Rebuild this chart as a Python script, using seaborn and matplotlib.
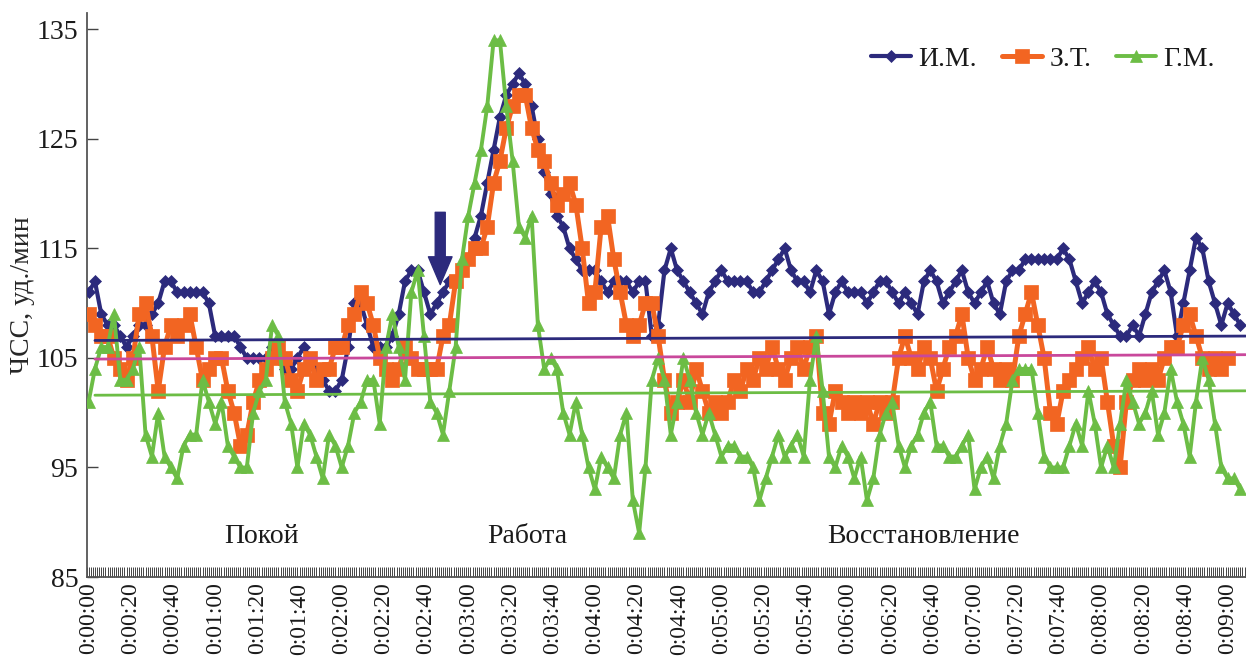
import matplotlib
matplotlib.use("Agg")
import matplotlib.pyplot as plt
from matplotlib.ticker import MultipleLocator, FuncFormatter
import numpy as np
import pandas as pd
import seaborn as sns

# Heart rate, sampled every 3 s from 0:00:00 to 0:09:06
seconds = list(range(0, 547, 3))

im = [111, 112, 109, 108, 108, 107, 106, 107, 108, 108,
      109, 110, 112, 112, 111, 111, 111, 111, 111, 110,
      107, 107, 107, 107, 106, 105, 105, 105, 105, 106,
      105, 104, 104, 105, 106, 105, 104, 103, 102, 102,
      103, 106, 110, 110, 108, 106, 106, 106, 107, 109,
      112, 113, 113, 111, 109, 110, 111, 112, 112, 113,
      114, 116, 118, 121, 124, 127, 129, 130, 131, 130,
      128, 125, 122, 120, 118, 117, 115, 114, 113, 113,
      113, 112, 111, 112, 112, 112, 111, 112, 112, 107,
      108, 113, 115, 113, 112, 111, 110, 109, 111, 112,
      113, 112, 112, 112, 112, 111, 111, 112, 113, 114,
      115, 113, 112, 112, 111, 113, 112, 109, 111, 112,
      111, 111, 111, 110, 111, 112, 112, 111, 110, 111,
      110, 109, 112, 113, 112, 110, 111, 112, 113, 111,
      110, 111, 112, 110, 109, 112, 113, 113, 114, 114,
      114, 114, 114, 114, 115, 114, 112, 110, 111, 112,
      111, 109, 108, 107, 107, 108, 107, 109, 111, 112,
      113, 111, 107, 110, 113, 116, 115, 112, 110, 108,
      110, 109, 108]

zt = [109, 108, 107, 107, 105, 104, 103, 105, 109, 110,
      107, 102, 106, 108, 107, 108, 109, 106, 103, 104,
      105, 105, 102, 100, 97, 98, 101, 103, 104, 105,
      106, 105, 103, 102, 104, 105, 103, 104, 104, 106,
      106, 108, 109, 111, 110, 108, 105, 104, 103, 104,
      106, 105, 104, 104, 104, 104, 107, 108, 112, 113,
      114, 115, 115, 117, 121, 123, 126, 128, 129, 129,
      126, 124, 123, 121, 119, 120, 121, 119, 115, 110,
      111, 117, 118, 114, 111, 108, 107, 108, 110, 110,
      107, 103, 100, 101, 103, 101, 104, 102, 100, 101,
      100, 101, 103, 102, 104, 103, 105, 104, 106, 104,
      103, 105, 106, 104, 106, 107, 100, 99, 102, 101,
      100, 101, 100, 101, 99, 101, 100, 101, 105, 107,
      105, 104, 106, 105, 102, 104, 106, 107, 109, 105,
      103, 104, 106, 104, 103, 104, 103, 107, 109, 111,
      108, 105, 100, 99, 102, 103, 104, 105, 106, 104,
      105, 101, 97, 95, 101, 103, 104, 103, 104, 103,
      105, 106, 106, 108, 109, 107, 105, 104, 105, 104,
      105, np.nan, np.nan]

gm = [101, 104, 106, 106, 109, 103, 103, 104, 106, 98,
      96, 100, 96, 95, 94, 97, 98, 98, 103, 101,
      99, 101, 97, 96, 95, 95, 100, 102, 103, 108,
      107, 101, 99, 95, 99, 98, 96, 94, 98, 97,
      95, 97, 100, 101, 103, 103, 99, 106, 109, 106,
      103, 111, 113, 107, 101, 100, 98, 102, 106, 114,
      118, 121, 124, 128, 134, 134, 128, 123, 117, 116,
      118, 108, 104, 105, 104, 100, 98, 101, 98, 95,
      93, 96, 95, 94, 98, 100, 92, 89, 95, 103,
      105, 103, 98, 101, 105, 103, 100, 98, 100, 98,
      96, 97, 97, 96, 96, 95, 92, 94, 96, 98,
      96, 97, 98, 96, 103, 107, 102, 96, 95, 97,
      96, 94, 96, 92, 94, 98, 100, 101, 97, 95,
      97, 98, 100, 101, 97, 97, 96, 96, 97, 98,
      93, 95, 96, 94, 97, 99, 103, 104, 104, 104,
      100, 96, 95, 95, 95, 97, 99, 97, 102, 99,
      95, 97, 95, 99, 103, 101, 99, 100, 102, 98,
      100, 104, 101, 99, 96, 101, 105, 103, 99, 95,
      94, 94, 93]

# Resting-level reference lines for each subject
baseline_t = [3, 548.5]
baseline_im = [106.6, 107.0]
baseline_zt = [104.9, 105.3]
baseline_gm = [101.6, 102.0]

names = ["И.М.", "З.Т.", "Г.М."]
y_ticks = [85, 95, 105, 115, 125, 135]
phase_labels = ["Покой", "Работа", "Восстановление"]
phase_t = [82, 208, 396]

navy = "#2C2A7C"
orange = "#F26522"
green = "#6CBD45"
magenta = "#C9489B"
FS = 20

sns.set_theme(style="white")
plt.rcParams["font.family"] = ["Liberation Serif", "DejaVu Serif"]
plt.rcParams["text.color"] = "#1a1a1a"

df = pd.DataFrame({"t": seconds, names[0]: im, names[1]: zt, names[2]: gm})

fig = plt.figure(figsize=(12.46, 6.62), dpi=100)
ax = fig.add_axes([86.5 / 1246, 1 - 577 / 662, 1 - 86.5 / 1246, (577 - 13) / 662])

styles = [
    (names[0], navy, "D", 6.5, 3.0),
    (names[1], orange, "s", 10, 3.6),
    (names[2], green, "^", 8.5, 2.8),
]
for name, col, mk, ms, lw in styles:
    sub = df[["t", name]].dropna()
    sns.lineplot(data=sub, x="t", y=name, ax=ax, color=col, marker=mk,
                 markersize=ms, markeredgecolor=col, markeredgewidth=0.5,
                 linewidth=lw, errorbar=None, label=name, zorder=3)

handles, labels = ax.get_legend_handles_labels()

for vals, col in [(baseline_im, navy), (baseline_zt, magenta), (baseline_gm, green)]:
    sns.lineplot(x=baseline_t, y=vals, ax=ax, color=col, linewidth=2.0,
                 errorbar=None, zorder=4, legend=False)

# Arrow marking the start of the load
ax.annotate("", xy=(166.7, 111.7), xytext=(166.7, 118.3),
            arrowprops=dict(arrowstyle="simple,head_length=1.0,head_width=0.85,tail_width=0.36",
                            color=navy, shrinkA=0, shrinkB=0, mutation_scale=20),
            zorder=5)

for lab, tx in zip(phase_labels, phase_t):
    ax.text(tx, 88.7, lab, ha="center", va="center", fontsize=FS)

ax.set_xlim(-1, 548.7)
ax.set_ylim(85, 136.5)
ax.set_yticks(y_ticks)
ax.xaxis.set_major_locator(MultipleLocator(20))
ax.xaxis.set_minor_locator(MultipleLocator(1))
ax.xaxis.set_major_formatter(FuncFormatter(
    lambda v, _: f"{int(round(v)) // 3600}:{(int(round(v)) // 60) % 60:02d}:{int(round(v)) % 60:02d}"))

ax.tick_params(axis="x", which="both", direction="in", length=7, width=0.7,
               color="#444444", bottom=True)
ax.tick_params(axis="x", which="major", labelrotation=90, labelsize=17, pad=4,
               labelcolor="#1a1a1a")
ax.tick_params(axis="y", direction="in", length=8, width=1.0, color="#444444",
               labelsize=FS, pad=6, labelcolor="#1a1a1a", left=True)

for side in ["top", "right"]:
    ax.spines[side].set_visible(False)
for side in ["left", "bottom"]:
    ax.spines[side].set_color("#555555")
    ax.spines[side].set_linewidth(1.3)

ax.set_xlabel("")
ax.set_ylabel("ЧСС, уд./мин", fontsize=FS, labelpad=1)

ax.legend(handles, labels, loc="upper right", bbox_to_anchor=(0.978, 0.95),
          ncol=3, frameon=False, fontsize=FS, handlelength=1.45,
          handletextpad=0.25, columnspacing=0.9, borderaxespad=0, borderpad=0.2)

fig.savefig("out.png", dpi=100)
